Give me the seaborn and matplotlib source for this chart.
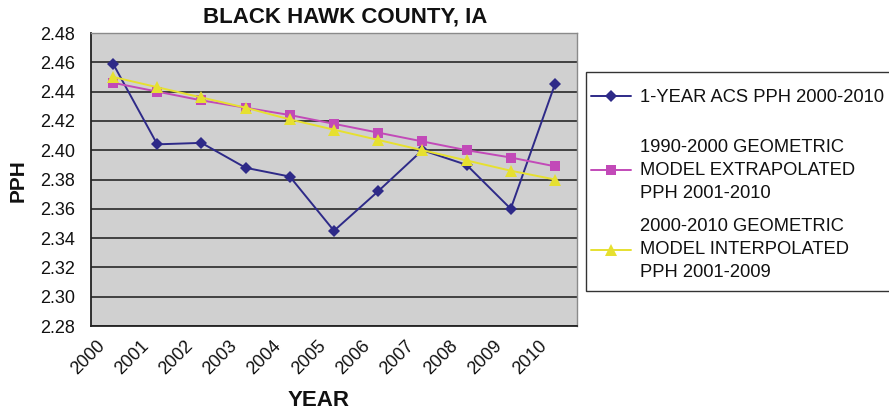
import matplotlib
matplotlib.use("Agg")
import matplotlib.pyplot as plt
import matplotlib.transforms as mtransforms
from matplotlib.patches import Rectangle
import seaborn as sns
import numpy as np
import pandas as pd

years = ["2000", "2001", "2002", "2003", "2004", "2005",
         "2006", "2007", "2008", "2009", "2010"]
acs_1yr = [2.459, 2.404, 2.405, 2.388, 2.382, 2.345,
           2.372, 2.400, 2.390, 2.360, 2.445]
extrapolated = [2.446, 2.440, 2.434, 2.429, 2.424, 2.418,
                2.412, 2.406, 2.400, 2.395, 2.389]
interpolated = [2.450, 2.443, 2.436, 2.429, 2.421, 2.414,
                2.407, 2.400, 2.393, 2.386, 2.380]
y_ticks = [2.28, 2.30, 2.32, 2.34, 2.36, 2.38, 2.40, 2.42, 2.44, 2.46, 2.48]

series_names = [
    "1-YEAR ACS PPH 2000-2010",
    "1990-2000 GEOMETRIC\nMODEL EXTRAPOLATED\nPPH 2001-2010",
    "2000-2010 GEOMETRIC\nMODEL INTERPOLATED\nPPH 2001-2009",
]

frames = []
for name, vals in zip(series_names, [acs_1yr, extrapolated, interpolated]):
    frames.append(pd.DataFrame({"pos": range(len(years)), "PPH": vals, "series": name}))
df = pd.concat(frames, ignore_index=True)

sns.set_theme(style="white")
plt.rcParams["font.family"] = ["Liberation Sans", "DejaVu Sans"]

W, H = 889, 412
fig = plt.figure(figsize=(W / 100, H / 100), dpi=100)
ax = fig.add_axes([91 / W, 1 - 326 / H, (577 - 91) / W, (326 - 33) / H])

colors = ["#2E2A88", "#C24AB8", "#E6E030"]
palette = dict(zip(series_names, colors))
markers = dict(zip(series_names, ["D", "s", "^"]))
msizes = [6.5, 6.5, 8.5]

sns.lineplot(data=df, x="pos", y="PPH", hue="series", style="series",
             palette=palette, markers=markers, dashes=False,
             markeredgewidth=0, linewidth=1.4,
             hue_order=series_names, style_order=series_names,
             ax=ax, legend=True)
for line, ms in zip(ax.lines[:3], msizes):
    line.set_markersize(ms)

ax.set_facecolor("#D0D0D0")
ax.set_xlim(-0.5, len(years) - 0.5)
ax.set_ylim(y_ticks[0], y_ticks[-1])
ax.set_yticks(y_ticks)
ax.set_yticklabels([f"{v:.2f}" for v in y_ticks])
ax.grid(axis="y", color="#1A1A1A", linewidth=1.1)
ax.set_axisbelow(True)

# category labels at the centers, tick marks on the category boundaries
ax.set_xticks(range(len(years)))
ax.set_xticklabels(years, rotation=45, ha="right", va="top", rotation_mode="anchor")
ax.set_xticks(np.arange(len(years) + 1) - 0.5, minor=True)
ax.tick_params(axis="x", which="major", length=0, pad=8, labelsize=13)
ax.tick_params(axis="x", which="minor", length=6, width=1.1, color="#222222", direction="out")
ax.tick_params(axis="y", which="major", length=6, width=1.1, color="#222222",
               direction="out", labelsize=13, pad=5.5)
ax.tick_params(axis="both", labelcolor="#111111")
shift = mtransforms.ScaledTranslation(-17 / 100, 0, fig.dpi_scale_trans)
for lab in ax.get_xticklabels():
    lab.set_transform(lab.get_transform() + shift)

for side in ["left", "bottom"]:
    ax.spines[side].set_color("#222222")
    ax.spines[side].set_linewidth(1.3)
for side in ["top", "right"]:
    ax.spines[side].set_color("#8A8A8A")
    ax.spines[side].set_linewidth(1.0)

ax.set_xlabel("")
ax.set_ylabel("")
fig.text(319 / W, 1 - 401 / H, "YEAR", fontsize=16, fontweight="bold",
         ha="center", va="center", color="#111111")
fig.text(18 / W, 1 - 181 / H, "PPH", fontsize=15, fontweight="bold",
         rotation=90, ha="center", va="center", color="#111111")
fig.text(345 / W, 1 - 17 / H, "BLACK HAWK COUNTY, IA", fontsize=16,
         fontweight="bold", ha="center", va="center", color="#111111")

# legend box, running off the right edge of the figure
fig.patches.append(Rectangle((586 / W, 1 - 291 / H), 320 / W, 219 / H,
                             transform=fig.transFigure, facecolor="white",
                             edgecolor="#333333", linewidth=1.0, zorder=1))

handles, labels = ax.get_legend_handles_labels()
ax.get_legend().remove()
plt.rcParams["text.parse_math"] = False
common = dict(frameon=False, fontsize=13.2, handlelength=2.2,
              handletextpad=0.5, borderpad=0, borderaxespad=0)
leg1 = fig.legend(handles[:1], labels[:1], loc="center left",
                  bbox_to_anchor=(591 / W, 1 - 98 / H), **common)
leg2 = fig.legend(handles[1:3], labels[1:3], loc="upper left",
                  bbox_to_anchor=(591 / W, 1 - 139 / H),
                  labelspacing=0.9, **common)
for leg, sizes in ((leg1, msizes[:1]), (leg2, msizes[1:3])):
    leg.set_zorder(3)
    for t in leg.get_texts():
        t.set_linespacing(1.45)
        t.set_color("#111111")
    for h, ms in zip(leg.legend_handles, sizes):
        h.set_markersize(ms)
        h.set_linewidth(1.4)

fig.savefig("out.png", dpi=100)
